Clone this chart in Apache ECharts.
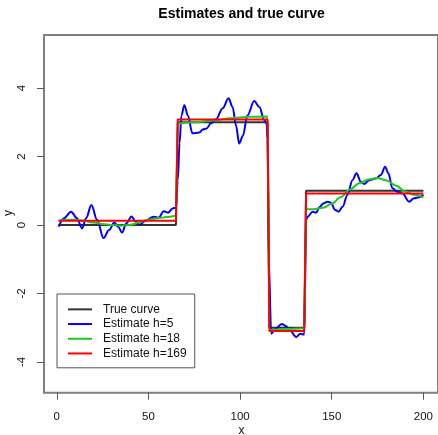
<!DOCTYPE html>
<html><head><meta charset="utf-8">
<script src="https://cdn.jsdelivr.net/npm/echarts@6/dist/echarts.min.js"></script>
<style>html,body{margin:0;padding:0;background:#fff}#c{width:438px;height:435px}</style>
</head><body><div id="c"></div>
<script>
// ---- data ----
var xTicks = [0, 50, 100, 150, 200];
var yTicks = [-4, -2, 0, 2, 4];

var trueX = [1, 65, 66, 115, 116, 135, 136, 200];
var trueY = [0, 0, 3, 3, -3, -3, 1, 1];

var h169X = [1, 65, 66, 115, 116, 135, 136, 200];
var h169Y = [0.12, 0.12, 3.08, 3.08, -3.1, -3.1, 0.92, 0.92];

var h18X = [1, 5, 10, 15, 20, 25, 30, 35, 40, 45, 50, 55, 60, 65,
            66, 75, 85, 95, 105, 115,
            116, 125, 135,
            136, 140, 145, 150, 155, 160, 165, 170, 175, 180, 185, 190, 195, 200];
var h18Y = [0.13, 0.15, 0.15, 0.12, 0.07, 0.03, 0.0, -0.02, 0.0, 0.07, 0.15, 0.2, 0.23, 0.27,
            2.97, 3.0, 3.05, 3.12, 3.16, 3.17,
            -3.07, -3.04, -3.02,
            0.46, 0.46, 0.5, 0.62, 0.82, 1.04, 1.22, 1.33, 1.37, 1.3, 1.15, 0.98, 0.88, 0.81];

var h5X = [1, 4, 7.8, 11, 13.8, 16, 18.9, 22, 25.5, 28.5, 31.4, 33.5, 35.6, 38, 40.8, 43, 45.2,
           48.7, 52.8, 55.6, 58.3, 60.7, 63.4, 65,
           66, 67, 68, 69.6, 71.5, 74, 77.8, 79.6, 81.7, 84.1, 86.9, 90.5, 93.7, 95.9, 97.8,
           99.5, 101.5, 104, 107.7, 110.5, 113.2, 114.5, 115,
           115.6, 117, 119, 122.8, 125, 127, 130.6, 132.9, 135,
           136, 137, 139.5, 141.4, 143.5, 145.3, 147.7, 149.5, 151.9, 153.7, 155.9, 158.6, 161.3,
           163.5, 165.9, 167.7, 170.4, 174.1, 176.8, 179.1, 180.9, 183.1, 185.8, 188.6, 192.2,
           194.9, 197.7, 200];
var h5Y = [-0.05, 0.2, 0.39, 0.2, -0.1, 0.2, 0.58, 0.15, -0.38, -0.15, 0.07, -0.05, -0.22, 0.05, 0.25, 0.1, 0.01,
           0.13, 0.24, 0.21, 0.4, 0.36, 0.49, 0.5,
           1.3, 2.4, 3.2, 3.5, 3.2, 2.68, 2.7, 2.79, 2.82, 2.97, 3.09, 3.41, 3.7, 3.45, 2.9,
           2.38, 2.6, 3.2, 3.62, 3.45, 3.07, 2.95, 2.5,
           -1.0, -3.18, -3.05, -2.89, -2.95, -3.07, -3.27, -3.18, -3.2,
           0.15, 0.25, 0.39, 0.36, 0.53, 0.63, 0.68, 0.65, 0.44, 0.39, 0.53, 0.88, 1.31,
           1.51, 1.26, 1.2, 1.31, 1.36, 1.46, 1.7, 1.51, 1.07, 0.97, 0.92, 0.68,
           0.78, 0.81, 0.88];

var seriesNames = ['True curve', 'Estimate h=5', 'Estimate h=18', 'Estimate h=169'];
// ---------------------------------------

function pairs(xs, ys) { return xs.map(function (x, i) { return [x, ys[i]]; }); }

var FONT = '"Liberation Sans", Arial, Helvetica, sans-serif';
var chart = echarts.init(document.getElementById('c'), null, { renderer: 'canvas' });

function lineSeries(name, data, color, smooth, z) {
  return {
    name: name, type: 'line', data: data, showSymbol: false, symbol: 'none',
    smooth: smooth, smoothMonotone: 'x', z: z,
    lineStyle: { color: color, width: 2 }, itemStyle: { color: color },
    emphasis: { disabled: true }, animation: false
  };
}

chart.setOption({
  animation: false,
  grid: { left: 44, top: 35, width: 394.5, height: 357.7, show: true,
          borderColor: '#7f7f7f', borderWidth: 2, backgroundColor: 'transparent' },
  xAxis: {
    type: 'value', min: -6.96, max: 207.96,
    axisLine: { show: false, onZero: false }, splitLine: { show: false },
    axisTick: { show: true, length: 7, customValues: xTicks, lineStyle: { color: '#555', width: 1 } },
    axisLabel: { customValues: xTicks, margin: 18, fontSize: 11.5, color: '#111', fontFamily: FONT }
  },
  yAxis: {
    type: 'value', min: -4.9, max: 5.55,
    axisLine: { show: false, onZero: false }, splitLine: { show: false },
    axisTick: { show: true, length: 7, customValues: yTicks, lineStyle: { color: '#555', width: 1 } },
    axisLabel: { customValues: yTicks, margin: 16, rotate: 90, fontSize: 11.5, color: '#111', fontFamily: FONT }
  },
  legend: {
    orient: 'vertical', left: 57, top: 294,
    data: seriesNames,
    icon: 'rect', itemWidth: 24, itemHeight: 2, itemGap: 0,
    padding: [8, 8, 7, 11],
    borderColor: '#555', borderWidth: 1, backgroundColor: '#fff',
    textStyle: { fontSize: 12, color: '#111', fontFamily: FONT, lineHeight: 14.7, padding: [0, 0, 0, 6] },
    selectedMode: false
  },
  graphic: [
    { type: 'text', x: 241.6, y: 14, style: { text: 'Estimates and true curve', align: 'center', verticalAlign: 'middle',
      font: 'bold 14px ' + FONT, fill: '#000' } },
    { type: 'text', x: 241.6, y: 431, style: { text: 'x', align: 'center', verticalAlign: 'middle',
      font: '12px ' + FONT, fill: '#111' } },
    { type: 'text', x: 9, y: 213, rotation: Math.PI / 2, style: { text: 'y', align: 'center', verticalAlign: 'middle',
      font: '12px ' + FONT, fill: '#111' } }
  ],
  series: [
    lineSeries(seriesNames[0], pairs(trueX, trueY), '#333333', false, 1),
    lineSeries(seriesNames[1], pairs(h5X, h5Y), '#0000ff', 0.35, 2),
    lineSeries(seriesNames[2], pairs(h18X, h18Y), '#22c822', 0.35, 3),
    lineSeries(seriesNames[3], pairs(h169X, h169Y), '#ff0000', false, 4)
  ]
});
</script></body></html>
